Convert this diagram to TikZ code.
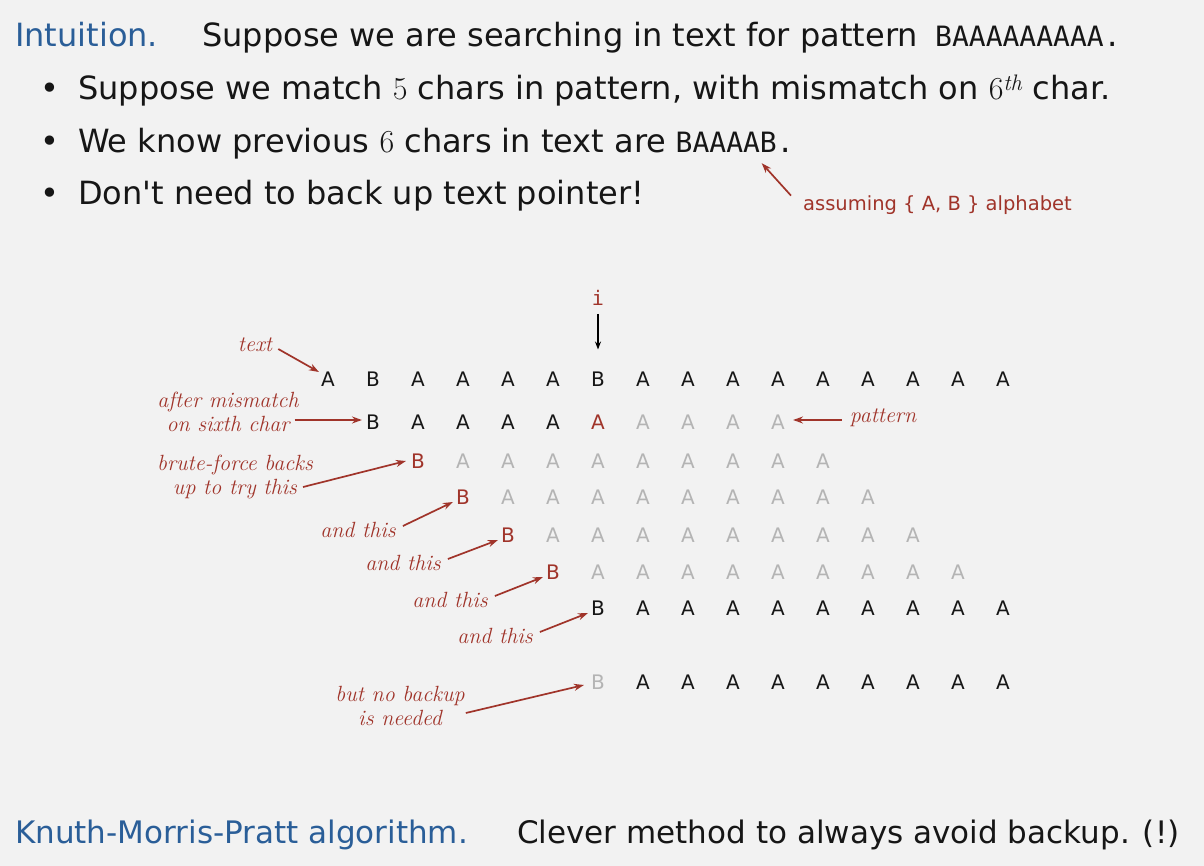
\documentclass[tikz,border=0pt]{standalone}
\usepackage{fontspec}
\setsansfont{DejaVu Sans}
\setmonofont{DejaVu Sans Mono}
\usetikzlibrary{arrows.meta,calc}
\definecolor{bg}{RGB}{242,242,242}
\definecolor{hdblue}{RGB}{42,94,152}
\definecolor{anred}{RGB}{160,52,42}
\definecolor{ltgray}{RGB}{180,180,180}
\definecolor{ink}{RGB}{22,22,22}

\begin{document}
\begin{tikzpicture}[x=1pt,y=-1pt,
  body/.style={anchor=base west,inner sep=0pt,text=ink,font=\sffamily\fontsize{32}{38}\selectfont},
  head/.style={body,text=hdblue},
  seq/.style={anchor=base west,inner sep=0pt,text=ink,font=\ttfamily\fontsize{28}{34}\selectfont},
  cell/.style={inner sep=0pt,text=ink,font=\sffamily\fontsize{20}{24}\selectfont},
  dim/.style={cell,text=ltgray},
  hit/.style={cell,text=anred},
  note/.style={inner sep=0pt,align=center,text=anred,font=\rmfamily\itshape\fontsize{22}{24}\selectfont},
  callout/.style={draw=anred,line width=1.7pt,-{Stealth[length=10pt,width=7pt]}},
]
% canvas
\fill[bg] (0,0) rectangle (1204,866);
\useasboundingbox (0,0) rectangle (1204,866);

% heading and bullet list
\node[head] (intu) at (15,47) {Intuition.};
\node[body] (l1) at (202,47) {Suppose we are searching in text for pattern};
\node[seq] (pat) at (935,47) {BAAAAAAAAA.};
\node[body] (b1) at (40,100) {•};
\node[body] (l2) at (78,100) {Suppose we match {\rmfamily 5} chars in pattern, with mismatch on {\rmfamily 6\textsuperscript{\itshape th}} char.};
\node[body] (b2) at (40,153) {•};
\node[body] (l3) at (78,153) {We know previous {\rmfamily 6} chars in text are};
\node[seq] (baab) at ($(l3.base east)+(9,0)$) {BAAAAB.};
\node[body] (b3) at (40,205) {•};
\node[body] (l4) at (78,205) {Don\textquotesingle t need to back up text pointer!};
\node[inner sep=0pt,text=anred,font=\sffamily\fontsize{19.5}{23}\selectfont,anchor=base west] (assume) at (803,211) {assuming \{ A, B \} alphabet};
\draw[callout] ($(assume.west)+(-12,-10)$) -- ($(baab.south)+(27,10)$);

% text and pattern alignments
\foreach \ch [count=\k from 0] in {A,B,A,A,A,A,B,A,A,A,A,A,A,A,A,A}
  \node[cell] (r0c\k) at (328+45*\k,379) {\ch};
\foreach \k/\ch/\sty in {1/B/cell,2/A/cell,3/A/cell,4/A/cell,5/A/cell,6/A/hit,7/A/dim,8/A/dim,9/A/dim,10/A/dim}
  \node[\sty] (r1c\k) at (328+45*\k,422) {\ch};
\foreach \r/\y in {2/461,3/497,4/535,5/572} {
  \node[hit] (r\r c\r) at (328+45*\r,\y) {B};
  \foreach \j in {1,...,9}
    \node[dim] (r\r c\the\numexpr\r+\j\relax) at (328+45*\r+45*\j,\y) {A};
}
\node[cell] (r6c6) at (598,608) {B};
\node[dim] (r7c6) at (598,682) {B};
\foreach \k in {7,...,15} {
  \node[cell] (r6c\k) at (328+45*\k,608) {A};
  \node[cell] (r7c\k) at (328+45*\k,682) {A};
}

% text pointer
\node[inner sep=0pt,text=anred,font=\ttfamily\fontsize{20}{24}\selectfont] (ptr) at (598,298) {i};
\draw[line width=1.4pt,-{Stealth[length=8pt,width=6pt]}] ($(ptr.south)+(0,8)$) -- ($(r0c6.north)+(0,-22)$);

% annotations
\node[note] (ntext) at (255,345) {text};
\node[note] (nafter) at (228,412) {after mismatch\\on sixth char};
\node[note] (nbrute) at (235,477) {brute-force backs\\up to try this};
\node[note] (nand1) at (358,530) {and this};
\node[note] (nand2) at (403,563) {and this};
\node[note] (nand3) at (450,600) {and this};
\node[note] (nand4) at (495,636) {and this};
\node[note] (nnob) at (400,706) {but no backup\\is needed};
\node[note] (npat) at (883,418) {pattern};

\draw[callout] ($(ntext.east)+(6,4)$) -- ($(r0c0.west)+(-2,-7)$);
\draw[callout] ($(nafter.east)+(-4,8)$) -- ($(r1c1.west)+(-4,-2)$);
\draw[callout] ($(nbrute.east)+(-10,10)$) -- ($(r2c2.west)+(-5,0)$);
\draw[callout] ($(nand1.east)+(7,-4)$) -- ($(r3c3.west)+(-3,5)$);
\draw[callout] ($(nand2.east)+(7,-4)$) -- ($(r4c4.west)+(-3,5)$);
\draw[callout] ($(nand3.east)+(7,-4)$) -- ($(r5c5.west)+(-3,5)$);
\draw[callout] ($(nand4.east)+(7,-4)$) -- ($(r6c6.west)+(-3,5)$);
\draw[callout] ($(nnob.east)+(1,7)$) -- ($(r7c6.west)+(-7,3)$);
\draw[callout] ($(npat.west)+(-8,2)$) -- ($(r1c10.east)+(8,-2)$);

% closing line
\node[head,font=\sffamily\fontsize{31}{37}\selectfont] (kmp) at (15,843) {Knuth-Morris-Pratt algorithm.};
\node[body,font=\sffamily\fontsize{31}{37}\selectfont] (clever) at (517,843) {Clever method to always avoid backup. (!)};
\end{tikzpicture}
\end{document}
